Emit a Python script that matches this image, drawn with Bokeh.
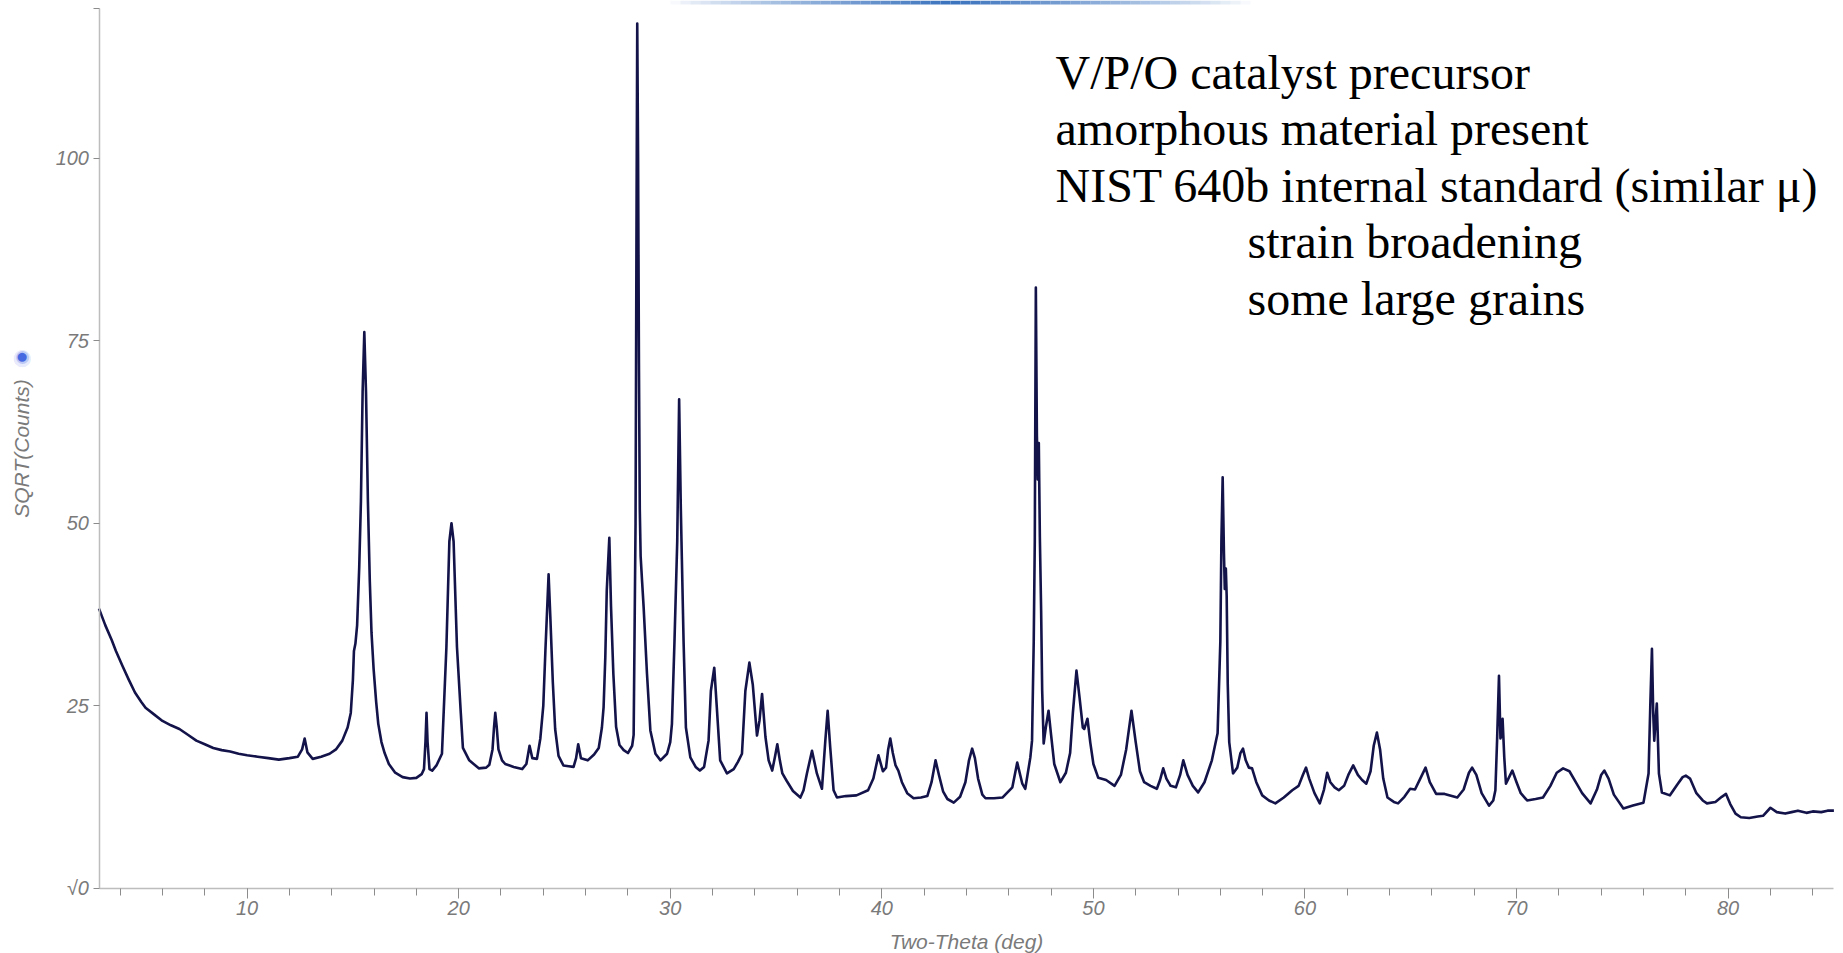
from bokeh.plotting import figure
from bokeh.models import Range1d, FixedTicker, SingleIntervalTicker, Label, BoxAnnotation
from bokeh.embed import file_html
from bokeh.resources import INLINE

# Powder pattern of the V/P/O precursor: two-theta (deg) against sqrt(counts)
two_theta = [
    3.0, 3.3, 3.6, 3.8, 4.1, 4.4, 4.7, 5.0, 5.2, 5.6, 6.0, 6.4, 6.8, 7.2, 7.6, 8.0,
    8.4, 8.8, 9.2, 9.6, 10.0, 10.5, 11.0, 11.5, 12.0, 12.4, 12.6, 12.72, 12.85, 13.1,
    13.5, 13.9, 14.2, 14.5, 14.75, 14.9, 15.0, 15.05, 15.12, 15.2, 15.3, 15.38, 15.46,
    15.54, 15.62, 15.71, 15.8, 15.88, 15.98, 16.1, 16.2, 16.35, 16.5, 16.7, 17.0, 17.35,
    17.7, 18.0, 18.25, 18.36, 18.43, 18.48, 18.53, 18.62, 18.75, 18.95, 19.21, 19.29,
    19.42, 19.56, 19.66, 19.76, 19.92, 20.1, 20.2, 20.5, 20.95, 21.3, 21.45, 21.6, 21.67,
    21.73, 21.8, 21.88, 22.05, 22.2, 22.6, 23.0, 23.2, 23.35, 23.48, 23.7, 23.86, 24.0,
    24.1, 24.2, 24.25, 24.33, 24.45, 24.56, 24.72, 24.95, 25.2, 25.43, 25.55, 25.65,
    25.78, 26.1, 26.4, 26.62, 26.77, 26.85, 26.93, 27.0, 27.12, 27.2, 27.31, 27.44, 27.6,
    27.8, 28.0, 28.2, 28.27, 28.31, 28.36, 28.41, 28.44, 28.48, 28.52, 28.56, 28.6, 28.67,
    28.74, 28.9, 29.06, 29.3, 29.54, 29.85, 30.0, 30.08, 30.2, 30.33, 30.42, 30.5, 30.55,
    30.63, 30.74, 30.95, 31.2, 31.4, 31.6, 31.81, 31.92, 32.08, 32.2, 32.36, 32.68, 33.0,
    33.2, 33.39, 33.55, 33.74, 33.9, 34.1, 34.22, 34.34, 34.5, 34.65, 34.82, 34.95, 35.06,
    35.18, 35.3, 35.5, 35.8, 36.15, 36.3, 36.46, 36.7, 36.93, 37.17, 37.33, 37.44, 37.56,
    37.72, 37.88, 38.3, 38.8, 39.35, 39.6, 39.84, 40.05, 40.2, 40.3, 40.4, 40.52, 40.65,
    40.78, 40.95, 41.2, 41.5, 41.85, 42.15, 42.35, 42.54, 42.7, 42.9, 43.1, 43.4, 43.7,
    43.95, 44.12, 44.27, 44.4, 44.55, 44.75, 44.9, 45.3, 45.7, 46.17, 46.4, 46.64, 46.78,
    47.02, 47.1, 47.18, 47.23, 47.28, 47.33, 47.37, 47.42, 47.47, 47.53, 47.58, 47.65,
    47.75, 47.88, 48.0, 48.15, 48.44, 48.7, 48.9, 49.03, 49.2, 49.35, 49.5, 49.57, 49.72,
    49.85, 50.0, 50.23, 50.6, 51.0, 51.3, 51.55, 51.8, 52.0, 52.2, 52.4, 52.7, 53.0,
    53.15, 53.3, 53.45, 53.65, 53.9, 54.1, 54.25, 54.45, 54.7, 54.95, 55.25, 55.6, 55.87,
    56.0, 56.05, 56.11, 56.17, 56.21, 56.26, 56.3, 56.35, 56.42, 56.6, 56.8, 56.95, 57.07,
    57.2, 57.35, 57.5, 57.7, 57.98, 58.3, 58.6, 59.0, 59.4, 59.7, 59.9, 60.05, 60.2,
    60.45, 60.7, 60.9, 61.05, 61.2, 61.4, 61.6, 61.85, 62.05, 62.28, 62.5, 62.7, 62.9,
    63.1, 63.25, 63.4, 63.55, 63.7, 63.9, 64.2, 64.4, 64.7, 64.97, 65.2, 65.45, 65.7,
    65.9, 66.2, 66.6, 67.2, 67.5, 67.75, 67.9, 68.1, 68.35, 68.7, 68.9, 69.0, 69.08,
    69.17, 69.24, 69.28, 69.34, 69.42, 69.5, 69.65, 69.8, 70.0, 70.2, 70.5, 70.9, 71.25,
    71.6, 71.9, 72.2, 72.5, 72.8, 73.1, 73.5, 73.8, 74.0, 74.15, 74.35, 74.6, 75.05, 75.5,
    76.0, 76.24, 76.32, 76.4, 76.46, 76.51, 76.57, 76.63, 76.73, 76.87, 77.25, 77.6,
    77.85, 78.0, 78.2, 78.5, 78.8, 79.0, 79.4, 79.7, 79.9, 80.1, 80.35, 80.6, 81.0, 81.4,
    81.65, 82.0, 82.3, 82.7, 83.0, 83.3, 83.7, 84.0, 84.4, 84.7, 85.0,
]
sqrt_counts = [
    38.3, 36.0, 34.0, 32.5, 30.5, 28.6, 26.8, 25.5, 24.7, 23.8, 22.9, 22.3, 21.8, 21.0, 20.2, 19.7,
    19.2, 18.9, 18.7, 18.4, 18.2, 18.0, 17.8, 17.6, 17.8, 18.0, 19.0, 20.5, 18.6, 17.7,
    18.0, 18.4, 19.0, 20.2, 22.0, 24.0, 28.5, 32.5, 33.5, 36.0, 44.0, 53.0, 68.0,
    76.2, 68.0, 53.0, 42.0, 35.0, 30.0, 25.5, 22.5, 20.0, 18.5, 17.0, 15.8, 15.2,
    15.0, 15.1, 15.6, 16.3, 20.0, 24.0, 20.0, 16.3, 16.1, 16.8, 18.4, 24.0,
    33.0, 47.5, 50.0, 47.5, 33.0, 24.0, 19.2, 17.5, 16.4, 16.5, 16.9, 19.0, 22.0,
    24.0, 22.0, 19.0, 17.5, 17.0, 16.6, 16.3, 17.0, 19.5, 17.8, 17.7, 20.5, 25.0,
    32.6, 39.5, 43.0, 37.3, 28.2, 21.8, 18.1, 16.8, 16.7, 16.6, 17.8, 19.7,
    17.8, 17.5, 18.3, 19.2, 22.0, 24.8, 31.6, 40.8, 48.0, 38.6, 29.4, 22.1, 19.6,
    18.9, 18.5, 19.5, 21.0, 33.8, 50.0, 95.0, 118.5, 100.0, 72.0, 52.0, 45.5, 42.0,
    38.6, 29.4, 21.6, 18.4, 17.5, 18.4, 20.0, 22.5, 33.8, 47.5, 67.0, 52.0, 45.0,
    33.8, 22.0, 17.9, 16.6, 16.1, 16.6, 20.2, 27.0, 30.2, 24.8, 17.5, 15.7, 16.3,
    17.3, 18.4, 27.0, 30.9, 27.9, 20.9, 23.0, 26.6, 20.7, 17.5, 16.1, 18.0, 19.7,
    17.5, 15.7, 14.7, 13.3, 12.4, 13.4, 15.7, 18.8, 15.7, 13.6, 20.2, 24.3, 19.3,
    13.4, 12.4, 12.6, 12.7, 13.4, 15.0, 18.2, 16.0, 16.5, 19.0, 20.5, 18.5, 16.8,
    16.1, 14.5, 13.0, 12.3, 12.4, 12.6, 14.5, 17.5, 15.5, 13.2, 12.2, 11.7, 12.5,
    14.5, 17.5, 19.1, 17.8, 15.0, 12.8, 12.3, 12.3, 12.4, 13.8, 17.2, 14.3, 13.6,
    17.9, 20.2, 33.8, 47.5, 82.3, 62.0, 56.0, 61.0, 48.0, 38.0, 27.0, 19.8,
    22.0, 24.3, 21.0, 17.0, 14.5, 15.8, 18.5, 24.0, 29.8, 26.0, 22.0, 21.8, 23.2,
    20.0, 17.0, 15.1, 14.8, 14.0, 15.5, 19.0, 24.3, 20.0, 16.0, 14.5, 14.0, 13.6,
    14.8, 16.4, 15.0, 14.0, 13.8, 15.5, 17.5, 15.5, 14.0, 13.1, 14.5, 17.5, 21.2,
    33.8, 47.5, 56.3, 46.0, 41.0, 43.8, 40.0, 28.0, 20.0, 15.7, 16.5, 18.5, 19.1,
    17.5, 16.5, 16.4, 14.5, 12.7, 12.0, 11.6, 12.4, 13.4, 14.0, 15.5, 16.5, 15.0,
    13.0, 11.6, 13.5, 15.8, 14.5, 13.8, 13.4, 14.0, 15.5, 16.8, 15.5, 14.8, 14.3,
    16.0, 19.5, 21.3, 19.0, 15.0, 12.4, 11.8, 11.6, 12.5, 13.6, 13.5, 15.0, 16.5,
    14.5, 12.9, 12.9, 12.4, 13.5, 15.8, 16.5, 15.5, 13.0, 11.3, 12.0, 13.4, 20.2,
    29.1, 20.5, 21.0, 23.2, 17.9, 14.3, 15.2, 16.1, 14.5, 13.0, 12.0, 12.2, 12.4,
    14.0, 15.8, 16.4, 16.0, 14.5, 13.0, 11.6, 13.5, 15.5, 16.1, 15.0, 12.8, 10.9, 11.3,
    11.7, 15.7, 24.8, 32.8, 24.0, 20.2, 23.0, 25.3, 15.7, 13.1, 12.7, 14.2,
    15.2, 15.4, 15.0, 13.0, 12.0, 11.6, 11.8, 12.5, 12.9, 11.5, 10.2, 9.7, 9.6, 9.8,
    9.9, 11.0, 10.4, 10.2, 10.4, 10.6, 10.3, 10.5, 10.4, 10.6, 10.6,
]

x_bounds = (3, 85)
y_bounds = (0, 120.6)
y_ticks = [0, 25, 50, 75, 100, 120.6]
y_tick_labels = {0: "√0", 120.6: ""}

notes = [
    "V/P/O catalyst precursor",
    "amorphous material present",
    "NIST 640b internal standard (similar μ)",
    "strain broadening",
    "some large grains",
]
note_indent = [0, 0, 0, 192, 192]

W, H = 1843, 953
# the frame fills the canvas; axes sit at fixed data positions inside it
AX_LEFT, AX_BOTTOM, AX_RIGHT, AX_TOP = 98.5, 887.5, 1833.4, 7.7
px_per_x = (AX_RIGHT - AX_LEFT) / (x_bounds[1] - x_bounds[0])
px_per_y = (AX_BOTTOM - AX_TOP) / (y_bounds[1] - y_bounds[0])
x_range = Range1d(x_bounds[0] - AX_LEFT / px_per_x, x_bounds[1] + (W - AX_RIGHT) / px_per_x)
y_range = Range1d(y_bounds[0] - (H - AX_BOTTOM) / px_per_y, y_bounds[1] + AX_TOP / px_per_y)

p = figure(
    width=W, height=H, x_range=x_range, y_range=y_range,
    output_backend="svg", toolbar_location=None,
    min_border=0, min_border_left=0, min_border_right=0,
    min_border_top=0, min_border_bottom=0,
)
p.background_fill_color = "white"
p.border_fill_color = "white"
p.outline_line_color = None
p.xgrid.visible = False
p.ygrid.visible = False

p.line(two_theta, sqrt_counts, line_color="#13134a", line_width=2.6, line_join="round")

label_color = "#7a7a7a"

# x axis
xa = p.xaxis[0]
xa.fixed_location = y_bounds[0]
xa.bounds = x_bounds
xa.ticker = SingleIntervalTicker(interval=10, num_minor_ticks=5)
xa.axis_label = "Two-Theta (deg)"
xa.axis_line_color = "#bdbdbd"
xa.axis_line_width = 1.5
xa.major_tick_line_color = "#8c8c8c"
xa.minor_tick_line_color = "#8c8c8c"
xa.major_tick_in = 0
xa.major_tick_out = 10
xa.minor_tick_in = 0
xa.minor_tick_out = 7
xa.major_label_standoff = 3
xa.major_label_text_font = "Liberation Sans"
xa.major_label_text_font_style = "italic"
xa.major_label_text_font_size = "20px"
xa.major_label_text_color = label_color
xa.axis_label_text_font = "Liberation Sans"
xa.axis_label_text_font_style = "italic"
xa.axis_label_text_font_size = "21px"
xa.axis_label_text_color = label_color
xa.axis_label_standoff = 11

# y axis
ya = p.yaxis[0]
ya.fixed_location = x_bounds[0]
ya.bounds = y_bounds
ya.ticker = FixedTicker(ticks=y_ticks)
ya.major_label_overrides = y_tick_labels
ya.axis_label = "SQRT(Counts)"
ya.axis_line_color = "#bdbdbd"
ya.axis_line_width = 1.5
ya.major_tick_line_color = "#8c8c8c"
ya.major_tick_in = 0
ya.major_tick_out = 6
ya.minor_tick_line_color = None
ya.major_label_standoff = 4
ya.major_label_text_font = "Liberation Sans"
ya.major_label_text_font_style = "italic"
ya.major_label_text_font_size = "20px"
ya.major_label_text_color = label_color
ya.axis_label_text_font = "Liberation Sans"
ya.axis_label_text_font_style = "italic"
ya.axis_label_text_font_size = "21px"
ya.axis_label_text_color = label_color
ya.axis_label_standoff = 20

# small blue marker beside the y-axis title (soft halo + core)
for size, alpha in (("40px", 0.14), ("30px", 0.25), ("21px", 0.95)):
    p.add_layout(Label(x=21.7, y=H - 355, x_units="screen", y_units="screen", text="●",
                       text_color="#3f63e0", text_alpha=alpha, text_font_size=size,
                       text_align="center", text_baseline="middle"))

# thin fading blue strip along the top edge
strip_left, strip_right, strip_peak = 670, 1250, 950
for i in range(58):
    left = strip_left + i * 10
    mid = left + 5
    half = (strip_peak - strip_left) if mid < strip_peak else (strip_right - strip_peak)
    a = max(0.0, 1 - abs(mid - strip_peak) / half) ** 0.8
    p.add_layout(BoxAnnotation(left=left, right=left + 10, bottom=H - 4, top=H,
                               left_units="screen", right_units="screen",
                               bottom_units="screen", top_units="screen",
                               fill_color="#3a72bd", fill_alpha=a, line_color=None,
                               level="overlay"))

# sample notes in the upper right
for i, (line, indent) in enumerate(zip(notes, note_indent)):
    p.add_layout(Label(
        x=1055 + indent, y=H - (71.5 + 56.5 * i),
        x_units="screen", y_units="screen", text=line,
        text_font="Liberation Serif", text_font_size="48px",
        text_color="black", text_align="left", text_baseline="alphabetic",
    ))

open("out.html", "w").write(file_html(p, INLINE))
